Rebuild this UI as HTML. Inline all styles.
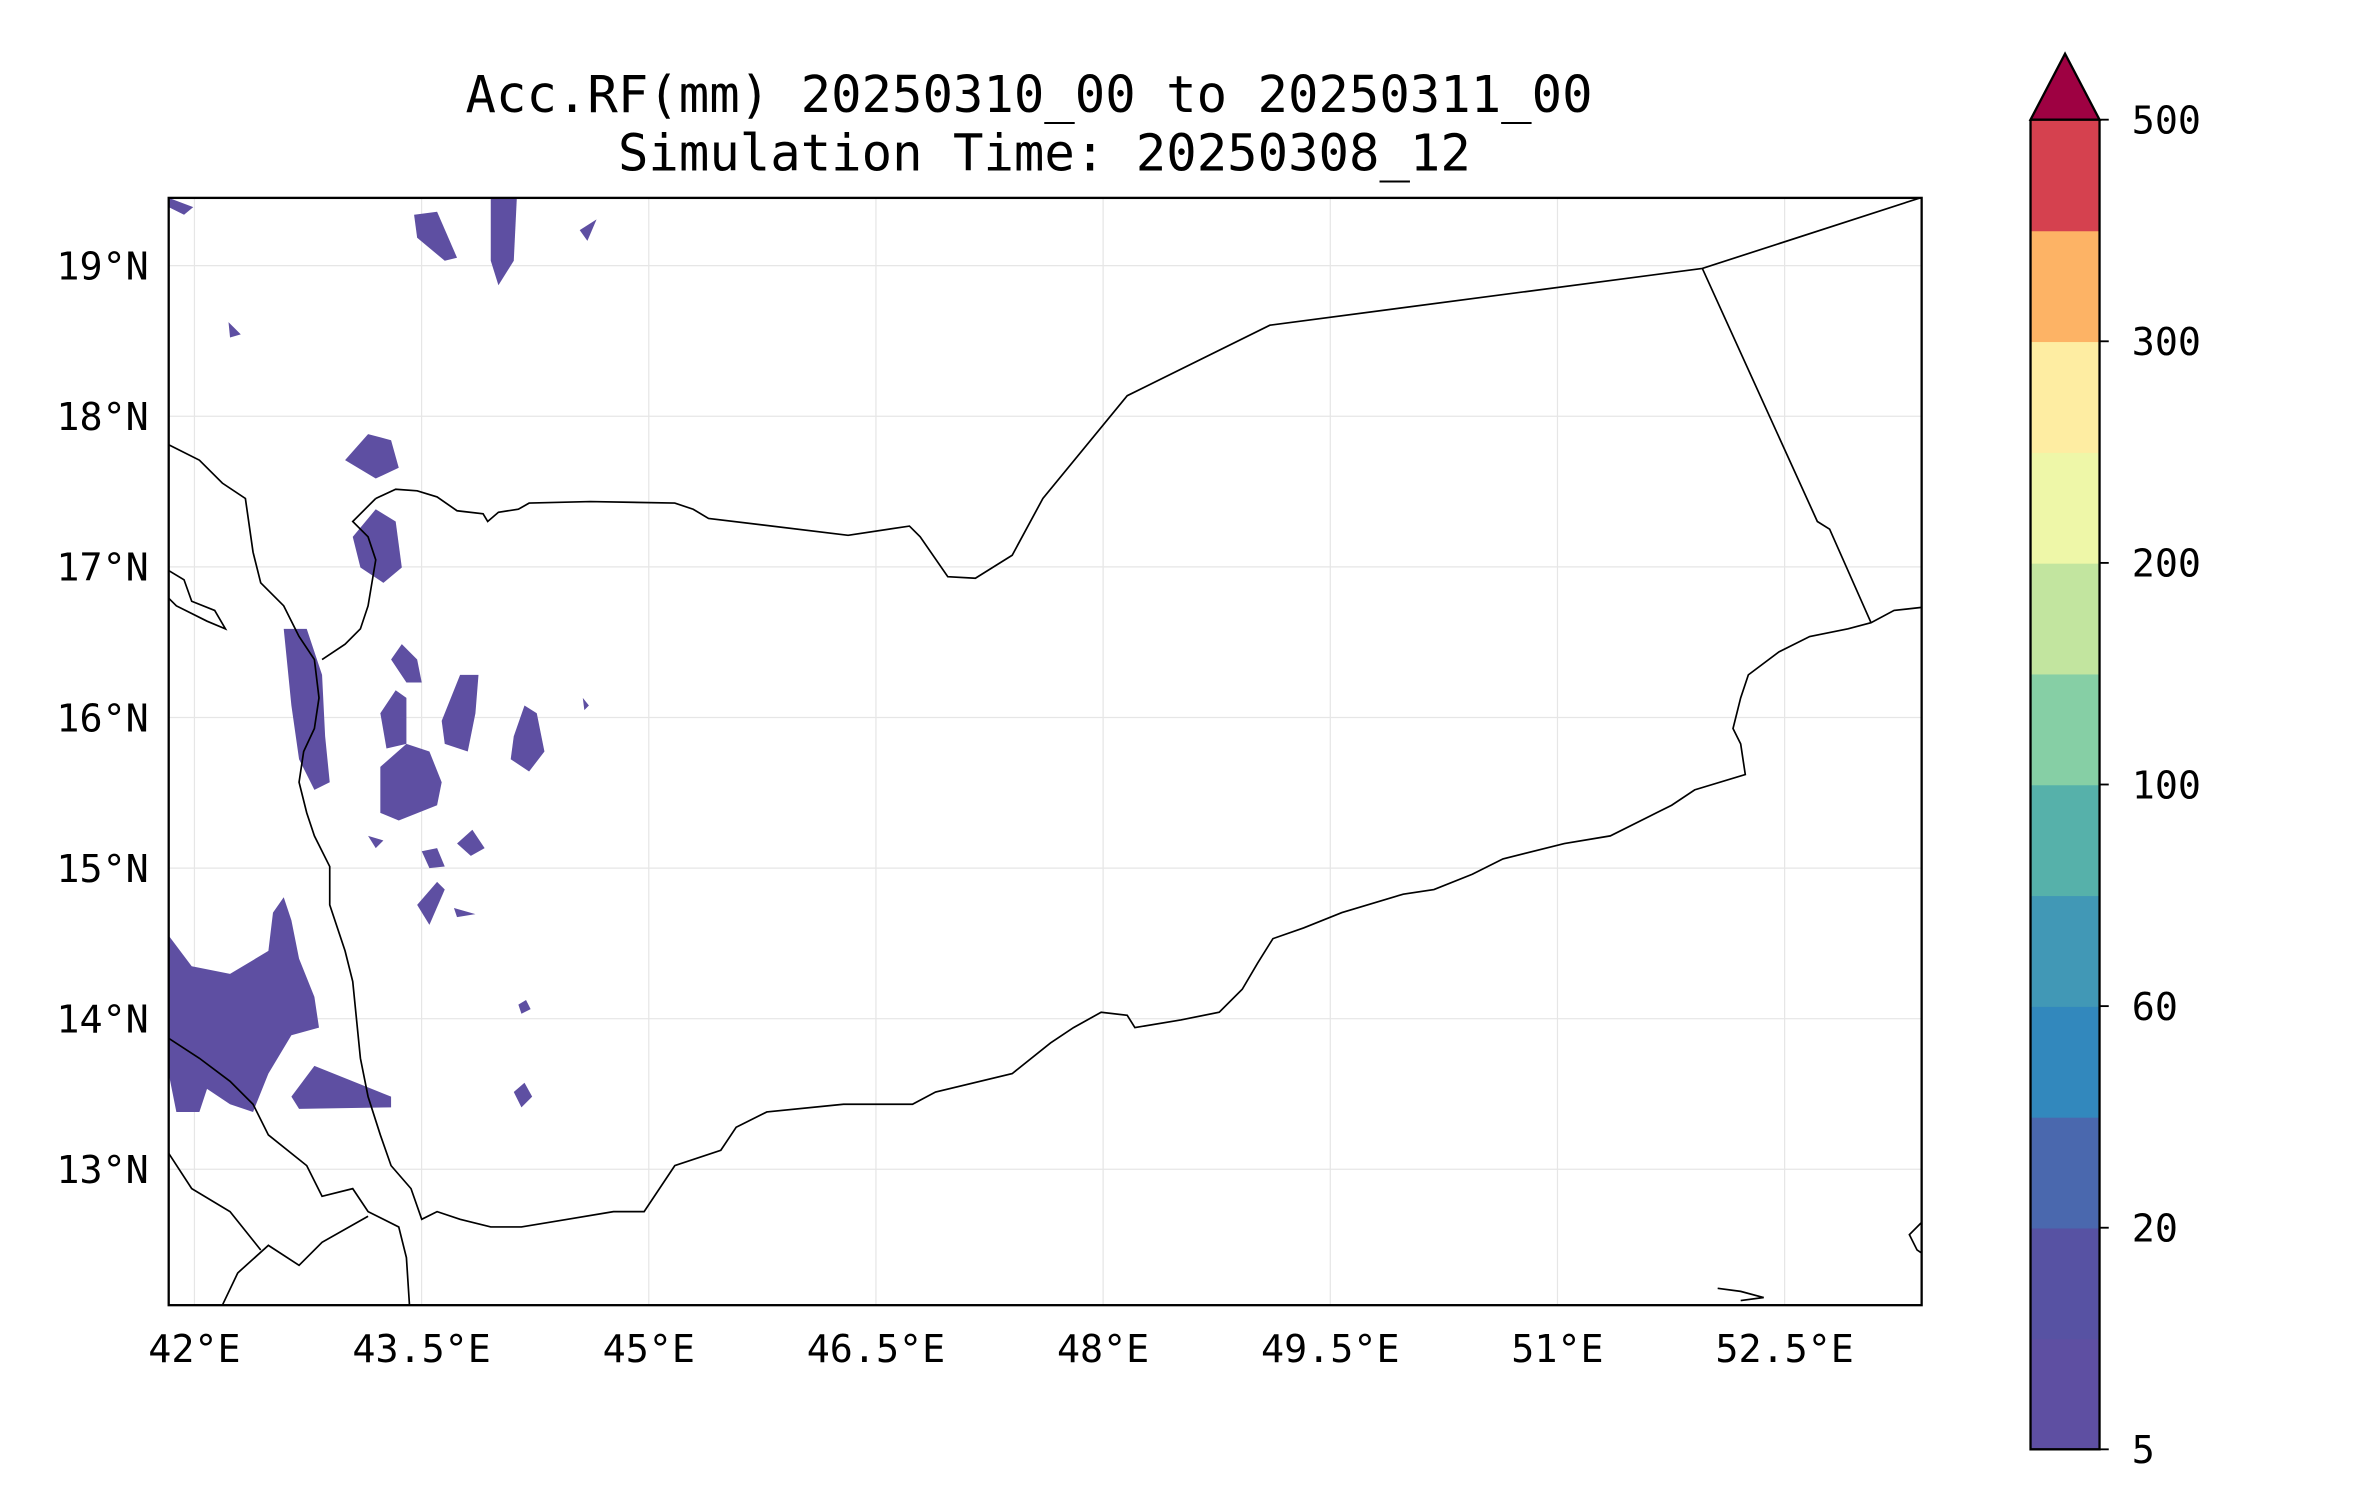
<!DOCTYPE html>
<html><head><meta charset="utf-8"><style>
html,body{margin:0;padding:0;background:#fff;}
svg{display:block;}
text{font-family:"DejaVu Sans Mono","Liberation Mono",monospace;fill:#000;}
</style></head><body>
<svg id="chart" width="2371" height="1500" viewBox="0 0 1546 978" xmlns="http://www.w3.org/2000/svg">
<rect width="1546" height="978" fill="#fff"/>
<g>
<text x="671" y="73" font-size="33" text-anchor="middle">Acc.RF(mm) 20250310_00 to 20250311_00</text>
<text x="681" y="111" font-size="33" text-anchor="middle">Simulation Time: 20250308_12</text>
</g>
<g id="grid"></g>
<g id="rain"></g>
<g id="geo" fill="none" stroke="#000" stroke-width="1.1"></g>
<rect x="110" y="129" width="1143" height="722" fill="none" stroke="#000" stroke-width="1.5"/>
<g id="xticks"></g>
<g id="yticks"></g>
<g id="cbar"></g>
</svg>
<script>
const lonTicks=[42,43.5,45,46.5,48,49.5,51,52.5];
const lonLabels=["42°E","43.5°E","45°E","46.5°E","48°E","49.5°E","51°E","52.5°E"];
const latTicks=[13,14,15,16,17,18,19];
const latLabels=["13°N","14°N","15°N","16°N","17°N","18°N","19°N"];
const levels=[5,10,20,40,60,80,100,150,200,250,300,400,500];
const levelColors=["#5e4fa2","#5752a3","#4a68ae","#3288bd","#4198b6","#56b1aa","#86cfa5","#c2e59f","#eef7a8","#feeda2","#fdb365","#d5414f"];
const cbarLabels=["5","20","60","100","200","300","500"];
const cbarLabelIdx=[0,2,4,6,8,10,12];
const ns="http://www.w3.org/2000/svg";
const X=lon=>110+(lon-41.83)*98.75;
const Y=lat=>129+(19.45-lat)*98.2;
function mk(t,a,p){const e=document.createElementNS(ns,t);for(const k in a)e.setAttribute(k,a[k]);p.appendChild(e);return e;}
const grid=document.getElementById('grid'),xt=document.getElementById('xticks'),yt=document.getElementById('yticks');
lonTicks.forEach((v,i)=>{const x=X(v);
 const l=mk('line',{x1:x,x2:x,y1:129,y2:851,stroke:'#e6e6e6','stroke-width':0.8},grid);
 
 
 const t=mk('text',{x:x,y:888,'font-size':25,'text-anchor':'middle'},xt);t.textContent=lonLabels[i];
 
 });
latTicks.forEach((v,i)=>{const y=Y(v);
 const l=mk('line',{x1:110,x2:1253,y1:y,y2:y,stroke:'#e6e6e6','stroke-width':0.8},grid);
 
 
 const t=mk('text',{x:97,y:y+9,'font-size':25,'text-anchor':'end'},yt);t.textContent=latLabels[i];
 
 });
const lines=[
"245,325 258,319 272,320 285,324 298,333 315,335 318,340 325,334 338,332 345,328 385,327 440,328 452,332 462,338 553,349 593,343 600,350 618,376 636,377 660,362 680,325 735,258 828,212 1110,175 1252,129",
"1110,175 1185,340 1193,345 1220,406",
"1253,396 1235,398 1220,406 1205,410 1180,415 1160,425 1140,440 1135,455 1130,475 1135,485 1138,505 1105,515 1090,525 1080,530 1050,545 1020,550 980,560 960,570 935,580 915,583 875,595 850,605 830,612 820,628 810,645 795,660 770,665 740,670 735,662 718,660 700,670 685,680 660,700 610,712 595,720 550,720 500,725 480,735 470,750 440,760 430,775 420,790 400,790 370,795 340,800 320,800 300,795 285,790 275,795 268,775 255,760 248,740 240,715 235,690 230,640 225,620 215,590 215,565 205,545 200,530 195,510 198,490 205,475 208,455 205,430 195,415 185,395 170,380 165,360 160,325 145,315 130,300 110,290",
"245,325 230,340 240,350 245,365 240,395 235,410 225,420 210,430",
"110,677 130,690 150,705 165,720 175,740 200,760 210,780 230,775 240,790 260,800 265,820 267,851",
"240,793 210,810 195,825 175,812 155,830 145,851",
"110,752 125,775 150,790 170,815",
"110,372 120,378 125,392 140,398 147,410 135,405 115,395 110,390",
"1120,840 1135,842 1150,846 1135,848",
"1253,797 1245,805 1250,815 1253,817"
];
const geo=document.getElementById('geo');
lines.forEach(p=>{const e=mk('polyline',{points:p},geo);
 
 });
const blobs=[
"110,610 125,630 150,635 175,620 178,595 185,585 190,600 195,625 205,650 208,670 190,675 175,700 165,725 150,720 135,710 130,725 115,725 110,700",
"190,715 205,695 230,705 255,715 255,722 195,723",
"185,410 200,410 210,440 212,480 215,510 205,515 195,495 190,460",
"230,350 245,332 258,340 262,370 250,380 235,370",
"225,300 240,283 255,287 260,305 245,312",
"270,140 285,138 298,168 290,170 272,155",
"320,129 337,129 335,170 325,186 320,170",
"248,500 265,485 280,490 288,510 285,525 260,535 248,530",
"248,465 258,450 265,455 265,485 252,488",
"288,470 300,440 312,440 310,465 305,490 290,485",
"335,480 342,460 350,465 355,490 345,503 333,495",
"255,430 262,420 272,430 275,445 265,445",
"298,550 308,541 316,553 307,558","275,555 285,553 290,565 280,566",
"240,545 250,548 245,553","272,590 285,575 290,580 280,603","296,592 310,596 298,598",
"335,712 342,706 347,715 340,722","338,655 343,652 346,658 340,661","149,210 157,218 150,220",
"378,150 389,143 383,157","380,455 384,460 381,463","110,129 126,135 120,140 110,135"];
const rain=document.getElementById('rain');
blobs.forEach(p=>{const e=mk('polygon',{points:p,fill:'#5e4fa2'},rain);
 
 });
const cb=document.getElementById('cbar');const cx=1324,cw=45,cbTop=78,cbBot=945,nb=levelColors.length,bh=(cbBot-cbTop)/nb;
levelColors.forEach((c,i)=>{const r=mk('rect',{x:cx,y:cbBot-(i+1)*bh,width:cw,height:bh+0.5,fill:c},cb);
 
 });
const tri=mk('polygon',{points:`${cx},${cbTop} ${cx+cw/2},35 ${cx+cw},${cbTop}`,fill:'#9e0142',stroke:'#000','stroke-width':1.5},cb);


const fr=mk('polyline',{points:`${cx},${cbTop} ${cx},${cbBot} ${cx+cw},${cbBot} ${cx+cw},${cbTop}`,fill:'none',stroke:'#000','stroke-width':1.5},cb);


cbarLabelIdx.forEach((k,i)=>{const y=cbBot-k*bh;
 mk('line',{x1:cx+cw,x2:cx+cw+6,y1:y,y2:y,stroke:'#000','stroke-width':1.2},cb);
 const t=mk('text',{x:1390,y:y+9,'font-size':25},cb);t.textContent=cbarLabels[i];
 
 });
</script>
</body></html>
